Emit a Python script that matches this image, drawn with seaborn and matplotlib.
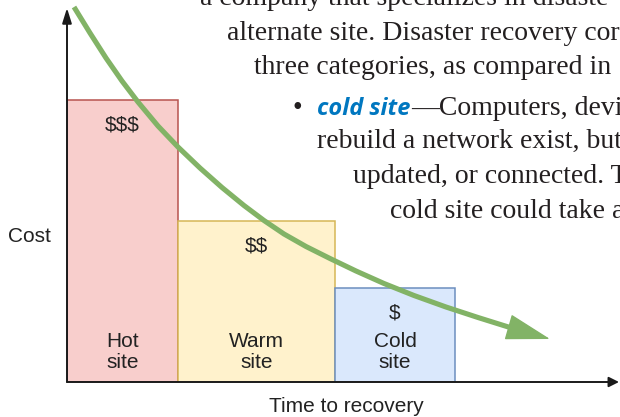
import numpy as np
import matplotlib
matplotlib.use("Agg")
import matplotlib.pyplot as plt
import seaborn as sns

# ---------------- data ----------------
site_names = ["Hot\nsite", "Warm\nsite", "Cold\nsite"]
cost_marks = ["$$$", "$$", "$"]
recovery_span = [111, 157, 120]          # width of each band along "time to recovery"
cost = [282, 161, 94]                    # height of each band along "cost"
fill_colors = ["#f8cecc", "#fff2cc", "#dae8fc"]
edge_colors = ["#b85450", "#d6b656", "#6c8ebf"]

# traced cost-vs-time trend curve
curve_time = [7, 23, 39, 55, 71, 91, 111, 133, 155, 177, 197, 217, 239, 263,
              289, 317, 347, 379, 411, 443]
curve_cost = [375, 349, 324, 301, 280, 256, 235, 214, 194.5, 176.5, 161.5, 148,
              135.5, 123.5, 111, 98.5, 86.5, 75, 64.5, 54.5]
curve_tip = (483, 43)

# background textbook paragraph (page text behind the figure, cut at the page edge)
para_lines = [
    "a company that specializes in disaste",
    "alternate site. Disaster recovery cor",
    "three categories, as compared in",
    "",
    "rebuild a network exist, but",
    "updated, or connected. T",
    "cold site could take a",
]
para_x = [133, 160, 187, 0, 250, 286, 323]
para_y = [377, 342, 308, 0, 234, 199, 164]
bullet_term = "cold site"
bullet_rest = "\u2014Computers, devi"

# ---------------- figure ----------------
sns.set_style("white")
plt.rcParams["font.family"] = ["Liberation Sans", "DejaVu Sans"]
plt.rcParams["text.parse_math"] = False

W, H = 620, 417
fig = plt.figure(figsize=(W / 100, H / 100), dpi=100)
ax = fig.add_axes([67 / W, 35 / H, (W - 67) / W, 382 / H])
ax.set_xlim(0, W - 67)
ax.set_ylim(0, 382)
ax.axis("off")

starts = np.concatenate([[0], np.cumsum(recovery_span)[:-1]])
ax.bar(starts, cost, width=recovery_span, align="edge",
       color=fill_colors, edgecolor=edge_colors, linewidth=1.1, zorder=2)

txt_col = "#222222"
for s, w, c, name, mark in zip(starts, recovery_span, cost, site_names, cost_marks):
    cx = s + w / 2
    ax.text(cx, c - 25, mark, ha="center", va="center", fontsize=15, color=txt_col,
            zorder=4, parse_math=False)
    ax.text(cx, 30, name, ha="center", va="center", fontsize=15, color=txt_col,
            linespacing=1.15, zorder=4)

# axes arrows
axis_col = "#1a1a1a"
ax.annotate("", xy=(0, 374), xytext=(0, 0),
            arrowprops=dict(arrowstyle="-|>,head_length=0.9,head_width=0.28",
                            color=axis_col, lw=1.4, shrinkA=0, shrinkB=0),
            zorder=5, annotation_clip=False)
ax.annotate("", xy=(552, 0), xytext=(0, 0),
            arrowprops=dict(arrowstyle="-|>,head_length=0.6,head_width=0.3",
                            color=axis_col, lw=1.4, shrinkA=0, shrinkB=0),
            zorder=5, annotation_clip=False)

# trend curve
green = "#82b366"
sns.lineplot(x=curve_time, y=curve_cost, sort=False, color=green, lw=3.7, ax=ax,
             solid_joinstyle="round", solid_capstyle="butt", zorder=6, clip_on=False)
ax.annotate("", xy=curve_tip, xytext=(curve_time[-1], curve_cost[-1]),
            arrowprops=dict(arrowstyle="-|>,head_length=29,head_width=8.5",
                            mutation_scale=1, color=green, lw=1, shrinkA=0, shrinkB=0),
            zorder=6, annotation_clip=False)

# axis titles
ax.text(-38, 145, "Cost", ha="center", va="center", fontsize=15, color=txt_col, clip_on=False)
ax.text(279, -24, "Time to recovery", ha="center", va="center", fontsize=15,
        color=txt_col, clip_on=False)

# background page text
serif = ["Liberation Serif", "DejaVu Serif"]
page_col = "#231f20"
for line, x, y in zip(para_lines, para_x, para_y):
    if line:
        ax.text(x, y, line, ha="left", va="baseline", fontsize=20, family=serif,
                color=page_col, clip_on=False)
ax.text(225, 267, "\u2022", ha="left", va="baseline", fontsize=20, family=serif,
        color=page_col, clip_on=False)
ax.text(250, 267, bullet_term, ha="left", va="baseline", fontsize=17,
        family=["Open Sans", "DejaVu Sans"], style="italic", weight="bold",
        color="#0077c0", clip_on=False)
ax.text(344, 267, bullet_rest, ha="left", va="baseline", fontsize=20,
        family=serif, color=page_col, clip_on=False)

fig.savefig("out.png", dpi=100)
